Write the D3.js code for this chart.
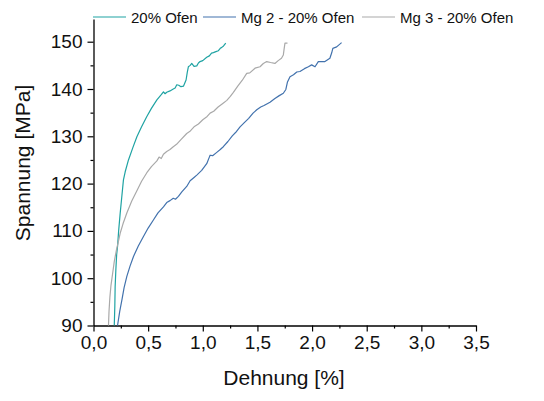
<!DOCTYPE html>
<html>
<head>
<meta charset="utf-8">
<script src="https://cdn.jsdelivr.net/npm/d3@7"></script>
<style>
  html, body { margin: 0; padding: 0; background: #fff; }
  svg { display: block; font-family: "Liberation Sans", Arial, sans-serif; }
</style>
</head>
<body>
<svg id="chart" width="544" height="401"></svg>
<script>
// Stress–strain curves: [Dehnung %, Spannung MPa]
const ofen20 = [
  [0.19,90],[0.195,94],[0.198,98.2],[0.205,102],[0.212,105],[0.22,106.7],[0.23,110],
  [0.244,113.7],[0.258,117],[0.274,120.8],[0.29,122.5],[0.32,125],[0.36,127.6],
  [0.397,129.9],[0.44,132],[0.488,134.2],[0.53,135.9],[0.58,137.7],[0.62,138.8],
  [0.64,139.4],[0.655,139.0],[0.67,139.3],[0.70,139.6],[0.73,140.0],[0.747,140.2],
  [0.762,140.9],[0.78,140.8],[0.80,140.5],[0.823,140.6],[0.847,141.9],[0.858,143.5],
  [0.868,144.7],[0.885,145.0],[0.899,145.4],[0.92,144.8],[0.945,144.9],[0.96,145.5],
  [0.975,145.8],[1.00,146.0],[1.036,146.7],[1.06,147.0],[1.08,147.6],[1.097,147.7],
  [1.12,147.9],[1.143,148.1],[1.16,148.6],[1.174,148.8],[1.19,149.1],[1.21,149.7]
];
const mg2Ofen20 = [
  [0.22,90],[0.24,93],[0.26,95.4],[0.28,98],[0.305,100.4],[0.335,102.6],[0.366,104.6],
  [0.41,106.8],[0.457,108.8],[0.50,110.6],[0.548,112.3],[0.59,113.8],[0.64,115.1],
  [0.67,116.0],[0.70,116.4],[0.73,116.9],[0.75,116.7],[0.777,117.3],[0.81,118.3],
  [0.853,119.4],[0.884,120.6],[0.92,121.3],[0.945,121.8],[0.99,122.8],[1.036,124.2],
  [1.06,125.6],[1.067,126.0],[1.09,125.9],[1.128,126.6],[1.16,127.2],[1.188,127.8],
  [1.23,128.9],[1.27,130.1],[1.30,130.8],[1.341,132.0],[1.38,132.9],[1.42,133.8],
  [1.46,134.9],[1.494,135.6],[1.53,136.2],[1.56,136.5],[1.59,136.9],[1.615,137.2],
  [1.66,138.0],[1.70,138.6],[1.737,139.1],[1.76,139.9],[1.775,141.5],[1.798,142.6],
  [1.83,143.0],[1.86,143.6],[1.889,143.7],[1.93,144.3],[1.966,144.7],[1.996,145.1],
  [2.027,144.7],[2.057,145.8],[2.09,145.8],[2.118,145.8],[2.163,146.5],[2.179,147.6],
  [2.19,148.6],[2.225,148.9],[2.27,149.8]
];
const mg3Ofen20 = [
  [0.137,90],[0.142,93],[0.15,96],[0.16,98.5],[0.175,101],[0.19,103.5],[0.21,106],
  [0.23,108],[0.244,109.5],[0.27,111.5],[0.305,113.8],[0.35,116.3],[0.397,118.5],
  [0.44,120.5],[0.488,122.3],[0.53,123.6],[0.58,124.8],[0.60,125.6],[0.62,125.3],
  [0.64,126.2],[0.67,126.8],[0.70,127.2],[0.73,127.8],[0.76,128.3],[0.80,129.3],
  [0.853,130.6],[0.88,131.0],[0.92,132.0],[0.96,132.6],[1.00,133.5],[1.04,134.2],
  [1.067,134.9],[1.10,135.3],[1.14,136.2],[1.18,136.9],[1.22,137.6],[1.25,138.4],
  [1.28,139.3],[1.32,140.6],[1.36,141.8],[1.402,143.3],[1.43,143.4],[1.478,144.4],
  [1.524,144.7],[1.554,145.4],[1.585,145.8],[1.62,145.6],[1.66,145.4],[1.69,146.0],
  [1.72,146.5],[1.737,147.2],[1.745,148.6],[1.752,149.7],[1.775,149.7]
];

const seriesNames = ["20% Ofen", "Mg 2 - 20% Ofen", "Mg 3 - 20% Ofen"];
const seriesColors = ["#1fa3a3", "#4272ad", "#a9a9a9"];
const xTicks = [0, 0.5, 1.0, 1.5, 2.0, 2.5, 3.0, 3.5];
const yTicks = [90, 100, 110, 120, 130, 140, 150];
const xLabel = "Dehnung [%]";
const yLabel = "Spannung [MPa]";

const svg = d3.select("#chart");
const plotLeft = 93.5, plotRight = 476, plotBottom = 325.5, plotTop = 19;

const x = d3.scaleLinear().domain([0, 3.5]).range([plotLeft, plotRight]);
const y = d3.scaleLinear().domain([90, 154.8]).range([plotBottom, plotTop]);

const fmtX = v => d3.format(".1f")(v).replace(".", ",");

// minor ticks
svg.append("g")
  .attr("transform", `translate(0,${plotBottom})`)
  .call(d3.axisBottom(x).tickValues(d3.range(0.25, 3.5, 0.5)).tickSize(3).tickFormat(""))
  .call(g => g.select(".domain").remove())
  .call(g => g.selectAll("line").attr("stroke", "#000").attr("stroke-width", 1.2));
svg.append("g")
  .attr("transform", `translate(${plotLeft},0)`)
  .call(d3.axisLeft(y).tickValues(d3.range(95, 155, 10)).tickSize(3).tickFormat(""))
  .call(g => g.select(".domain").remove())
  .call(g => g.selectAll("line").attr("stroke", "#000").attr("stroke-width", 1.2));

// major axes
const xAxis = svg.append("g")
  .attr("transform", `translate(0,${plotBottom})`)
  .call(d3.axisBottom(x).tickValues(xTicks).tickFormat(fmtX).tickSize(6).tickSizeOuter(0).tickPadding(4));
const yAxis = svg.append("g")
  .attr("transform", `translate(${plotLeft},0)`)
  .call(d3.axisLeft(y).tickValues(yTicks).tickFormat(d3.format("d")).tickSize(6).tickSizeOuter(0).tickPadding(5));

[xAxis, yAxis].forEach(g => {
  g.select(".domain").attr("stroke", "#000").attr("stroke-width", 1.3);
  g.selectAll(".tick line").attr("stroke", "#000").attr("stroke-width", 1.2);
  g.selectAll(".tick text")
    .attr("fill", "#111")
    .style("font-size", "19px")
    .style("font-family", "'Liberation Sans', Arial, sans-serif");
});

// axis titles
svg.append("text")
  .attr("x", 284).attr("y", 385)
  .attr("text-anchor", "middle")
  .style("font-size", "21px").attr("fill", "#111")
  .text(xLabel);
svg.append("text")
  .attr("transform", "translate(30,163) rotate(-90)")
  .attr("text-anchor", "middle")
  .style("font-size", "21px").attr("fill", "#111")
  .text(yLabel);

// curves
const line = d3.line().x(d => x(d[0])).y(d => y(d[1]));
const allSeries = [ofen20, mg2Ofen20, mg3Ofen20];
svg.append("g").selectAll("path")
  .data(allSeries)
  .join("path")
  .attr("d", line)
  .attr("fill", "none")
  .attr("stroke", (d, i) => seriesColors[i])
  .attr("stroke-width", 1.2)
  .attr("stroke-linejoin", "round");

// legend
const legendX = [93, 203, 362];
const legend = svg.append("g");
seriesNames.forEach((name, i) => {
  legend.append("line")
    .attr("x1", legendX[i]).attr("x2", legendX[i] + 33)
    .attr("y1", 17).attr("y2", 17)
    .attr("stroke", seriesColors[i]).attr("stroke-width", 1.2);
  legend.append("text")
    .attr("x", legendX[i] + 38).attr("y", 22.5)
    .style("font-size", "15px").attr("fill", "#111")
    .text(name);
});
</script>
</body>
</html>
